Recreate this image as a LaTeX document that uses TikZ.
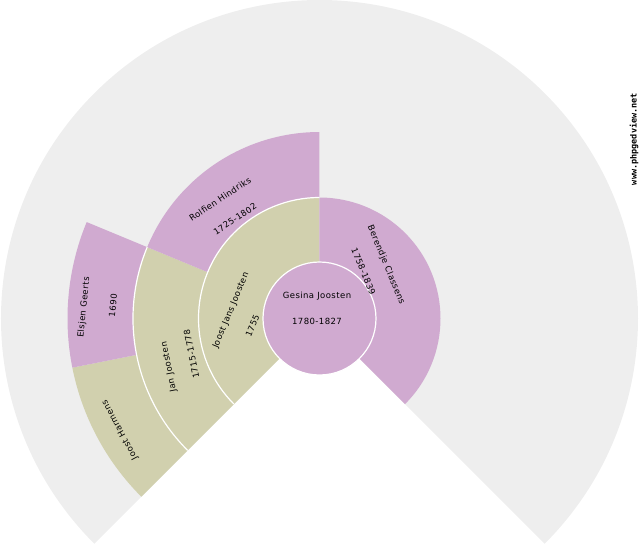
\documentclass[tikz,border=0pt]{standalone}
\usepackage{fontspec}
\newfontfamily\fanfont[LetterSpace=5]{DejaVu Sans}
\newfontfamily\markfont{DejaVu Sans Mono}
\definecolor{fangrey}{HTML}{EEEEEE}
\definecolor{fanpurple}{HTML}{D0AAD0}
\definecolor{fantan}{HTML}{D1D0AE}
\begin{document}
\begin{tikzpicture}[x=1pt,y=1pt,
	fantext/.style={font=\fanfont\fontsize{8.5}{9}\selectfont,inner sep=0pt},
	ringsep/.style={white,line width=1.2pt}]
		\useasboundingbox (-319.5,-231.5) rectangle (320.5,318.5);
		% Fondo del abanico
		\fill[fangrey] (0,0) -- (225:318.5pt) arc[start angle=225,end angle=-45,radius=318.5pt] -- cycle;
		% Generacion 3
		\fill[fantan] (225:186.5pt) arc[start angle=225,end angle=191.25,radius=186.5pt] -- (191.25:252pt) arc[start angle=191.25,end angle=225,radius=252pt] -- cycle;
		\fill[fanpurple] (191.25:186.5pt) arc[start angle=191.25,end angle=157.5,radius=186.5pt] -- (157.5:252pt) arc[start angle=157.5,end angle=191.25,radius=252pt] -- cycle;
		% Generacion 2
		\fill[fantan] (225:121pt) arc[start angle=225,end angle=157.5,radius=121pt] -- (157.5:186.5pt) arc[start angle=157.5,end angle=225,radius=186.5pt] -- cycle;
		\fill[fanpurple] (157.5:121pt) arc[start angle=157.5,end angle=90,radius=121pt] -- (90:186.5pt) arc[start angle=90,end angle=157.5,radius=186.5pt] -- cycle;
		% Generacion 1
		\fill[fantan] (225:56.5pt) arc[start angle=225,end angle=90,radius=56.5pt] -- (90:121pt) arc[start angle=90,end angle=225,radius=121pt] -- cycle;
		\fill[fanpurple] (90:56.5pt) arc[start angle=90,end angle=-45,radius=56.5pt] -- (-45:121pt) arc[start angle=-45,end angle=90,radius=121pt] -- cycle;
		% Centro
		\fill[fanpurple] (0,0) circle[radius=56.5pt];
		% Separadores blancos
		\draw[ringsep] (0,0) circle[radius=56.5pt];
		\draw[ringsep] (225:121pt) arc[start angle=225,end angle=90,radius=121pt];
		\draw[ringsep] (225:186.5pt) arc[start angle=225,end angle=157.5,radius=186.5pt];
		% Nombres y fechas
		\node[fantext] (gesina) at (-2.5,22.5) {Gesina Joosten};
		\node[fantext] (gesinadate) at (-2.5,-2.5) {1780-1827};
		\node[fantext,rotate=-67.5] (berendje) at (66.5,53.5) {Berendje Classens};
		\node[fantext,rotate=-67.5] (berendjedate) at (44,47) {1758-1839};
		\node[fantext,rotate=67.5] (joostjans) at (-88.5,8) {Joost Jans Joosten};
		\node[fantext,rotate=67.5] (joostjansdate) at (-67,-7.5) {1755};
		\node[fantext,rotate=33.75] (rolfien) at (-99.5,119.5) {Rolfien Hindriks};
		\node[fantext,rotate=33.75] (rolfiendate) at (-84.5,99.5) {1725-1802};
		\node[fantext,rotate=101.25] (jan) at (-150.5,-48.5) {Jan Joosten};
		\node[fantext,rotate=101.25] (jandate) at (-128,-35.5) {1715-1778};
		\node[fantext,rotate=84.375] (elsjen) at (-235.5,11) {Elsjen Geerts};
		\node[fantext,rotate=84.375] (elsjendate) at (-206.5,13) {1690};
		\node[fantext,rotate=118.125] (harmens) at (-199.5,-111.5) {Joost Harmens};
		% Marca
		\node[font=\markfont\bfseries\fontsize{8.5}{9}\selectfont,inner sep=0pt,rotate=90] (site) at (314.5,179.5) {www.phpgedview.net};
\end{tikzpicture}
\end{document}
